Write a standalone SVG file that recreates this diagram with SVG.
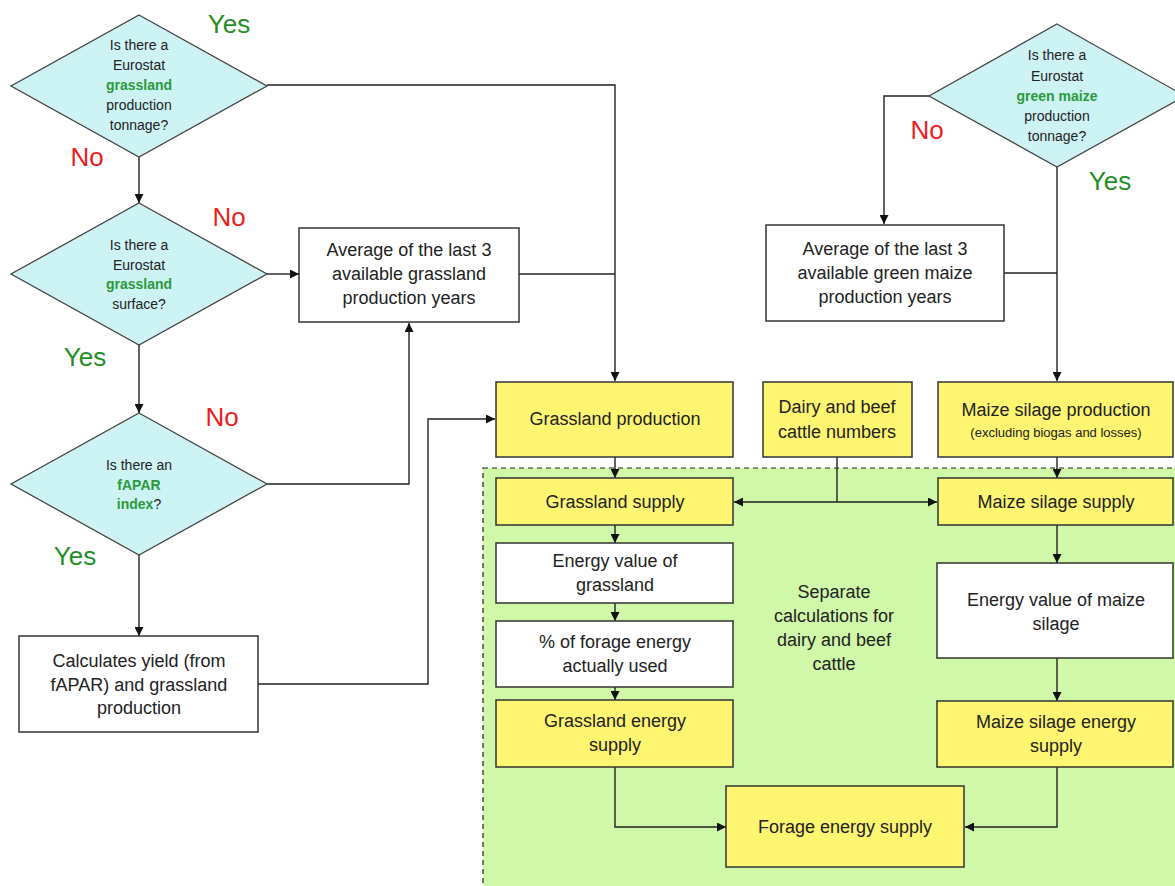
<svg xmlns="http://www.w3.org/2000/svg" width="1175" height="886" viewBox="0 0 1175 886">
  <defs>
    <marker id="arrow" viewBox="0 0 10 10" refX="10" refY="5" markerWidth="9" markerHeight="9" markerUnits="userSpaceOnUse" orient="auto">
      <path d="M0,0 L10,5 L0,10 z" fill="#111"/>
    </marker>
    <style>
      .diamond { fill: #cdf3f5; stroke: #444; stroke-width: 1.3; }
      .box { fill: #fff; stroke: #333; stroke-width: 1.5; }
      .ybox { fill: #fef571; stroke: #333; stroke-width: 1.5; }
      .q { font-family: "Liberation Sans", Arial, sans-serif; font-size: 14px; fill: #222; text-anchor: middle; }
      .qg { font-weight: bold; fill: #2a9a3a; }
      .t { font-family: "Liberation Sans", Arial, sans-serif; font-size: 18px; fill: #222; text-anchor: middle; }
      .small { font-size: 13px; }
      .yes { font-family: "Liberation Sans", Arial, sans-serif; font-size: 26px; fill: #1f8f24; text-anchor: middle; }
      .no { font-family: "Liberation Sans", Arial, sans-serif; font-size: 26px; fill: #ee1c1c; text-anchor: middle; }
      .conn { fill: none; stroke: #222; stroke-width: 1.4; }
    </style>
  </defs>

  <rect width="1175" height="886" fill="#fff"/>

  <!-- shaded region for per-cattle calculations -->
  <g id="cattle-zone">
    <rect x="483" y="468" width="700" height="430" fill="#cff8a9" stroke="#222" stroke-width="1.2" stroke-dasharray="5,4"/>
    <text class="t" x="834" y="598">Separate</text>
    <text class="t" x="834" y="622">calculations for</text>
    <text class="t" x="834" y="646">dairy and beef</text>
    <text class="t" x="834" y="670">cattle</text>
  </g>

  <!-- connectors -->
  <g id="connectors">
    <path class="conn" d="M139,157 V203" marker-end="url(#arrow)"/>
    <path class="conn" d="M267,85 H615 V381" marker-end="url(#arrow)"/>
    <path class="conn" d="M267,274 H299" marker-end="url(#arrow)"/>
    <path class="conn" d="M139,345 V413" marker-end="url(#arrow)"/>
    <path class="conn" d="M267,484 H409 V323" marker-end="url(#arrow)"/>
    <path class="conn" d="M139,555 V636" marker-end="url(#arrow)"/>
    <path class="conn" d="M519,274 H615"/>
    <path class="conn" d="M258,684 H428 V419 H495" marker-end="url(#arrow)"/>
    <path class="conn" d="M615,457 V478" marker-end="url(#arrow)"/>
    <path class="conn" d="M615,525 V543" marker-end="url(#arrow)"/>
    <path class="conn" d="M615,603 V621" marker-end="url(#arrow)"/>
    <path class="conn" d="M615,687 V700" marker-end="url(#arrow)"/>
    <path class="conn" d="M615,767 V827 H726" marker-end="url(#arrow)"/>
    <path class="conn" d="M837,457 V502"/>
    <path class="conn" d="M837,502 H734" marker-end="url(#arrow)"/>
    <path class="conn" d="M837,502 H937" marker-end="url(#arrow)"/>
    <path class="conn" d="M929,96 H884 V224" marker-end="url(#arrow)"/>
    <path class="conn" d="M1057,167 V381" marker-end="url(#arrow)"/>
    <path class="conn" d="M1004,273 H1057"/>
    <path class="conn" d="M1057,457 V478" marker-end="url(#arrow)"/>
    <path class="conn" d="M1057,525 V563" marker-end="url(#arrow)"/>
    <path class="conn" d="M1057,658 V701" marker-end="url(#arrow)"/>
    <path class="conn" d="M1057,767 V827 H965" marker-end="url(#arrow)"/>
  </g>

  <!-- decision: grassland production tonnage -->
  <g id="q-grass-tonnage">
    <polygon class="diamond" points="139,15 267,86 139,157 11,86"/>
    <text class="q" x="139" y="50">Is there a</text>
    <text class="q" x="139" y="70">Eurostat</text>
    <text class="q qg" x="139" y="90">grassland</text>
    <text class="q" x="139" y="110">production</text>
    <text class="q" x="139" y="130">tonnage?</text>
  </g>

  <!-- decision: grassland surface -->
  <g id="q-grass-surface">
    <polygon class="diamond" points="139,203 267,274 139,345 11,274"/>
    <text class="q" x="139" y="250">Is there a</text>
    <text class="q" x="139" y="270">Eurostat</text>
    <text class="q qg" x="139" y="289">grassland</text>
    <text class="q" x="139" y="309">surface?</text>
  </g>

  <!-- decision: fAPAR index -->
  <g id="q-fapar">
    <polygon class="diamond" points="139,413 267,484 139,555 11,484"/>
    <text class="q" x="139" y="470">Is there an</text>
    <text class="q qg" x="139" y="490">fAPAR</text>
    <text class="q" x="139" y="509"><tspan class="qg">index</tspan>?</text>
  </g>

  <!-- decision: green maize production tonnage -->
  <g id="q-maize-tonnage">
    <polygon class="diamond" points="1057,24 1185,96 1057,167 929,96"/>
    <text class="q" x="1057" y="60">Is there a</text>
    <text class="q" x="1057" y="81">Eurostat</text>
    <text class="q qg" x="1057" y="101">green maize</text>
    <text class="q" x="1057" y="121">production</text>
    <text class="q" x="1057" y="141">tonnage?</text>
  </g>

  <!-- branch labels -->
  <g id="branch-labels">
    <text class="yes" x="229" y="33">Yes</text>
    <text class="no" x="87" y="166">No</text>
    <text class="no" x="229" y="226">No</text>
    <text class="yes" x="85" y="366">Yes</text>
    <text class="no" x="222" y="426">No</text>
    <text class="yes" x="75" y="565">Yes</text>
    <text class="no" x="927" y="139">No</text>
    <text class="yes" x="1110" y="190">Yes</text>
  </g>

  <g id="avg-grass">
    <rect class="box" x="299" y="228" width="220" height="94"/>
    <text class="t" x="409" y="256">Average of the last 3</text>
    <text class="t" x="409" y="280">available grassland</text>
    <text class="t" x="409" y="304">production years</text>
  </g>

  <g id="avg-maize">
    <rect class="box" x="766" y="225" width="238" height="96"/>
    <text class="t" x="885" y="255">Average of the last 3</text>
    <text class="t" x="885" y="279">available green maize</text>
    <text class="t" x="885" y="303">production years</text>
  </g>

  <g id="calc-yield">
    <rect class="box" x="19" y="636" width="239" height="96"/>
    <text class="t" x="139" y="667">Calculates yield (from</text>
    <text class="t" x="139" y="691">fAPAR) and grassland</text>
    <text class="t" x="139" y="714">production</text>
  </g>

  <g id="grass-production">
    <rect class="ybox" x="496" y="382" width="237" height="75"/>
    <text class="t" x="615" y="425">Grassland production</text>
  </g>

  <g id="cattle-numbers">
    <rect class="ybox" x="763" y="382" width="149" height="75"/>
    <text class="t" x="837" y="413">Dairy and beef</text>
    <text class="t" x="837" y="438">cattle numbers</text>
  </g>

  <g id="maize-production">
    <rect class="ybox" x="938" y="382" width="235" height="75"/>
    <text class="t" x="1056" y="416">Maize silage production</text>
    <text class="t small" x="1056" y="437">(excluding biogas and losses)</text>
  </g>

  <g id="grass-supply">
    <rect class="ybox" x="496" y="478" width="237" height="47"/>
    <text class="t" x="615" y="508">Grassland supply</text>
  </g>

  <g id="maize-supply">
    <rect class="ybox" x="938" y="478" width="235" height="47"/>
    <text class="t" x="1056" y="508">Maize silage supply</text>
  </g>

  <g id="grass-energy-value">
    <rect class="box" x="496" y="543" width="237" height="60"/>
    <text class="t" x="615" y="567">Energy value of</text>
    <text class="t" x="615" y="591">grassland</text>
  </g>

  <g id="forage-used">
    <rect class="box" x="496" y="621" width="237" height="66"/>
    <text class="t" x="615" y="648">% of forage energy</text>
    <text class="t" x="615" y="672">actually used</text>
  </g>

  <g id="grass-energy-supply">
    <rect class="ybox" x="496" y="700" width="237" height="67"/>
    <text class="t" x="615" y="727">Grassland energy</text>
    <text class="t" x="615" y="751">supply</text>
  </g>

  <g id="maize-energy-value">
    <rect class="box" x="937" y="563" width="236" height="95"/>
    <text class="t" x="1056" y="606">Energy value of maize</text>
    <text class="t" x="1056" y="630">silage</text>
  </g>

  <g id="maize-energy-supply">
    <rect class="ybox" x="937" y="701" width="236" height="66"/>
    <text class="t" x="1056" y="728">Maize silage energy</text>
    <text class="t" x="1056" y="752">supply</text>
  </g>

  <g id="forage-energy-supply">
    <rect class="ybox" x="726" y="786" width="238" height="81"/>
    <text class="t" x="845" y="833">Forage energy supply</text>
  </g>
</svg>
